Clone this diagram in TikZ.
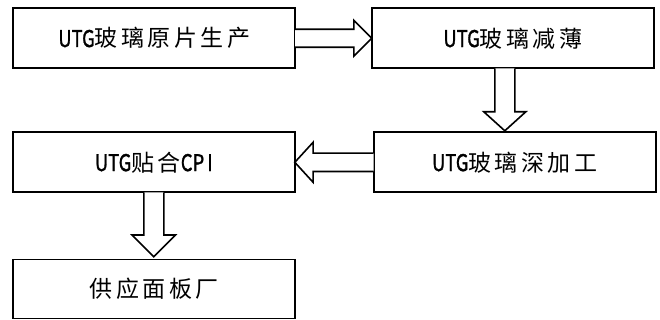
\documentclass[tikz,border=0pt]{standalone}
\usepackage{fontspec}
\usepackage{graphicx}
\setmainfont{Noto Sans CJK SC}
\newfontfamily\cjk{Noto Sans CJK SC}[LetterSpace=15]
\newfontfamily\latf{Noto Sans CJK SC}[FakeBold=1.5]
\newcommand{\lat}[1]{\scalebox{0.8}[1]{\latf #1}}
\tikzset{
  box/.style={draw, line width=1.6pt, inner sep=0pt, outer sep=0pt,
    minimum width=282pt, minimum height=60pt,
    font=\fontsize{23}{27}\selectfont},
  barrow/.style={draw, line width=1.6pt, fill=white, line join=miter}
}
\begin{document}
\begin{tikzpicture}[x=1pt,y=-1pt]
\useasboundingbox (0,0) rectangle (660,320);
\node[box] (b1) at (154.2,38.3) {\cjk\lat{UTG}玻璃原片生产};
\node[box] (b2) at (512.8,38.3) {\cjk\lat{UTG}玻璃减薄};
\node[box] (b3) at (514.7,162.3) {\cjk\lat{UTG}玻璃深加工};
\node[box] (b4) at (153.8,162.3) {\cjk\lat{UTG}贴合\lat{CP\,I}};
\node[box, minimum height=59pt] (b5) at (154.2,288.8) {\cjk 供应面板厂};
% arrow 1: b1 -> b2
\draw[barrow] ([yshift=9pt]b1.east) -- ([xshift=-18pt,yshift=9pt]b2.west)
  -- ([xshift=-18pt,yshift=18pt]b2.west) -- (b2.west)
  -- ([xshift=-18pt,yshift=-18pt]b2.west) -- ([xshift=-18pt,yshift=-9pt]b2.west)
  -- ([yshift=-9pt]b1.east);
% arrow 2: b2 -> b3
\coordinate (a2s) at ([xshift=-8pt]b2.south);
\coordinate (a2t) at ([yshift=1.5pt]a2s |- b3.north);
\draw[barrow] ([xshift=-10pt]a2s) -- ([xshift=-10pt,yshift=19pt]a2t)
  -- ([xshift=-21pt,yshift=19pt]a2t) -- (a2t)
  -- ([xshift=21pt,yshift=19pt]a2t) -- ([xshift=10pt,yshift=19pt]a2t)
  -- ([xshift=10pt]a2s);
% arrow 3: b3 -> b4
\draw[barrow] ([yshift=9.2pt]b3.west) -- ([xshift=18.3pt,yshift=9.2pt]b4.east)
  -- ([xshift=18.3pt,yshift=20pt]b4.east) -- (b4.east)
  -- ([xshift=18.3pt,yshift=-20pt]b4.east) -- ([xshift=18.3pt,yshift=-9.2pt]b4.east)
  -- ([yshift=-9.2pt]b3.west);
% arrow 4: b4 -> b5
\coordinate (a4s) at (b4.south);
\coordinate (a4t) at ([yshift=2.6pt]a4s |- b5.north);
\draw[barrow] ([xshift=-10pt]a4s) -- ([xshift=-10pt,yshift=21.7pt]a4t)
  -- ([xshift=-21.7pt,yshift=21.7pt]a4t) -- (a4t)
  -- ([xshift=21.7pt,yshift=21.7pt]a4t) -- ([xshift=10pt,yshift=21.7pt]a4t)
  -- ([xshift=10pt]a4s);
\end{tikzpicture}
\end{document}
